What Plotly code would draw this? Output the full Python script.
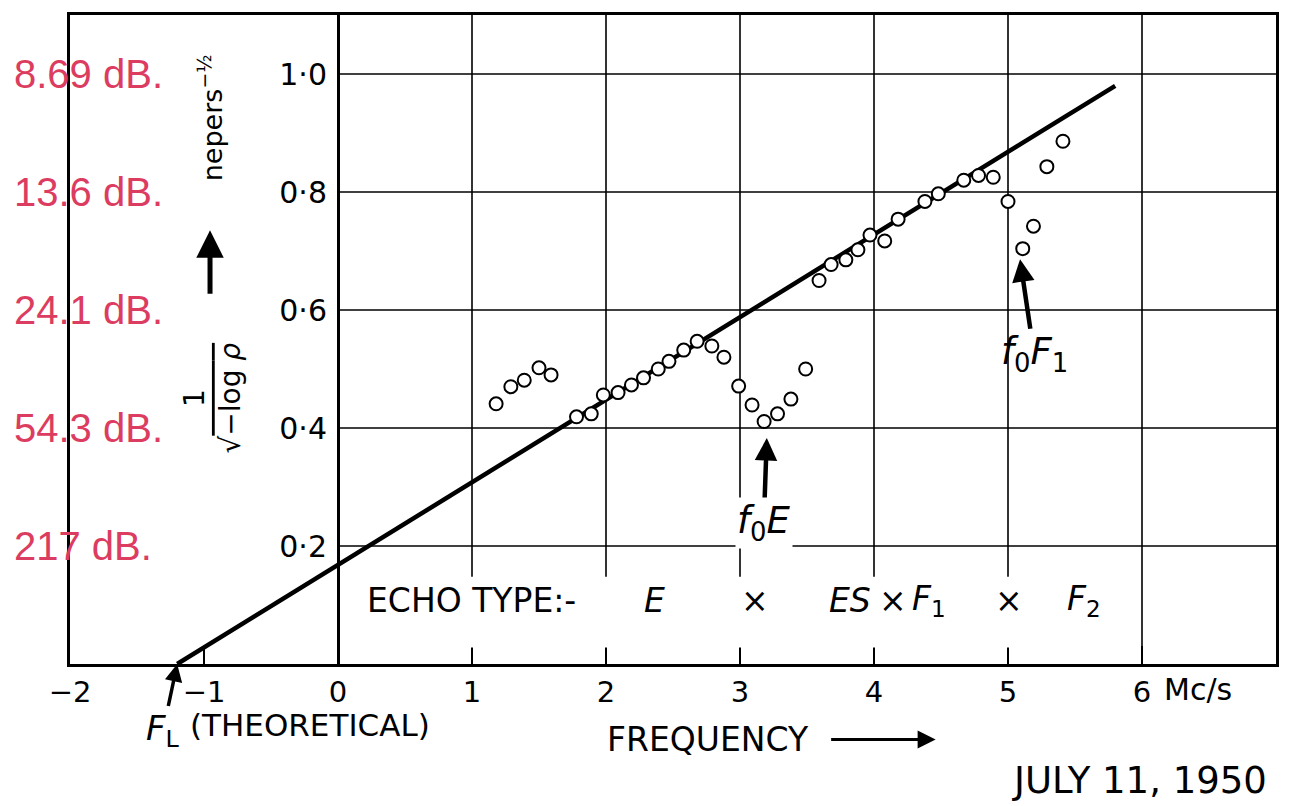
import plotly.graph_objects as go

# ---------------- data ----------------
freq = [1.18, 1.29, 1.39, 1.50, 1.59,
        1.78, 1.89, 1.98, 2.09, 2.19, 2.28, 2.39, 2.47, 2.58, 2.68, 2.79, 2.88,
        2.99, 3.09, 3.18, 3.28, 3.38, 3.49,
        3.59, 3.68, 3.79, 3.88, 3.97, 4.08, 4.18, 4.38, 4.48, 4.67, 4.78, 4.89,
        5.00, 5.11, 5.19, 5.29, 5.41]
inv_sqrt_log_rho = [0.441, 0.470, 0.481, 0.502, 0.490,
                    0.419, 0.424, 0.456, 0.460, 0.473, 0.485, 0.500, 0.513, 0.532, 0.547, 0.539, 0.520,
                    0.471, 0.439, 0.411, 0.424, 0.449, 0.500,
                    0.650, 0.677, 0.685, 0.702, 0.727, 0.717, 0.754, 0.784, 0.797, 0.820, 0.828, 0.825,
                    0.784, 0.704, 0.742, 0.843, 0.886]
fit_x = [-1.2, 5.8]
fit_y = [0.0, 0.98]

x_tickvals = [-2, -1, 0, 1, 2, 3, 4, 5, 6]
x_ticktext = ["−2", "−1", "0", "1", "2", "3", "4", "5", "6"]
y_tickvals = [0.2, 0.4, 0.6, 0.8, 1.0]
y_ticktext = ["0·2", "0·4", "0·6", "0·8", "1·0"]
db_labels = ["217 dB.", "54.3 dB.", "24.1 dB.", "13.6 dB.", "8.69 dB."]
grid_x = [1, 2, 3, 4, 5, 6]
echo_types = [("<i>E</i>", 2.36), ("×", 3.11), ("<i>ES</i>", 3.82), ("×", 4.14),
              ("<i>F</i><sub>1</sub>", 4.41), ("×", 5.01), ("<i>F</i><sub>2</sub>", 5.57)]

X_RANGE = [-2, 7]
Y_RANGE = [0, 1.1]

FONT = "'DejaVu Sans', Verdana, sans-serif"
RED = "#dc3c5f"


def xp(x):
    return (x - X_RANGE[0]) / (X_RANGE[1] - X_RANGE[0])


def yp(y):
    return (y - Y_RANGE[0]) / (Y_RANGE[1] - Y_RANGE[0])


fig = go.Figure()
fig.add_trace(go.Scatter(x=fit_x, y=fit_y, mode="lines",
                         line=dict(color="black", width=4.5),
                         xaxis="x", yaxis="y", hoverinfo="skip", showlegend=False))
fig.add_trace(go.Scatter(x=freq, y=inv_sqrt_log_rho, mode="markers",
                         marker=dict(symbol="circle", size=13, color="white",
                                     line=dict(color="black", width=2)),
                         xaxis="x", yaxis="y2", showlegend=False))

shapes = []
for gx in grid_x:
    shapes.append(dict(type="line", xref="x", yref="y", x0=gx, x1=gx,
                       y0=Y_RANGE[0], y1=Y_RANGE[1],
                       line=dict(color="black", width=1.6), layer="below"))
for gy in y_tickvals:
    shapes.append(dict(type="line", xref="x", yref="y", x0=0, x1=X_RANGE[1],
                       y0=gy, y1=gy, line=dict(color="black", width=1.6), layer="below"))
# white band behind the echo-type legend
shapes.append(dict(type="rect", xref="x", yref="y", x0=0.05, x1=5.95, y0=0.028, y1=0.148,
                   fillcolor="white", line=dict(width=0), layer="above"))

ann = []
# red dB labels
for val, lab in zip(y_tickvals, db_labels):
    ann.append(dict(xref="paper", yref="y", x=xp(-2.43), y=val, text=lab,
                    xanchor="left", yanchor="middle", showarrow=False,
                    font=dict(family="'Liberation Sans', Arial, sans-serif", size=40, color=RED)))
# y title pieces
ann.append(dict(xref="x", yref="y", x=-0.955, y=0.925, text="nepers<sup>−½</sup>",
                textangle=-90, showarrow=False, font=dict(family=FONT, size=27, color="black")))
ann.append(dict(xref="x", yref="y", x=-0.955, y=0.735, ax=-0.955, ay=0.625,
                axref="x", ayref="y", text="", showarrow=True, arrowhead=2,
                arrowsize=1.1, arrowwidth=5, arrowcolor="black"))
ann.append(dict(xref="x", yref="y", x=-0.94, y=0.45,
                text="1<br>√<span style='text-decoration:overline'>−log <i>ρ</i></span>",
                textangle=-90, showarrow=False, font=dict(family=FONT, size=28, color="black")))
# echo type legend
ann.append(dict(xref="x", yref="y", x=0.2, y=0.108, text="ECHO TYPE:-", xanchor="left",
                showarrow=False, font=dict(family=FONT, size=33, color="black")))
for txt, ex in echo_types:
    ann.append(dict(xref="x", yref="y", x=ex, y=0.108, text=txt, showarrow=False,
                    font=dict(family=FONT, size=33, color="black")))
# critical frequencies
ann.append(dict(xref="x", yref="y", x=3.2, y=0.383, ax=-3, ay=85,
                text="<i>f</i><sub>0</sub><i>E</i>", showarrow=True, arrowhead=2,
                arrowsize=1.0, arrowwidth=4.5, arrowcolor="black",
                bgcolor="white", font=dict(family=FONT, size=37, color="black")))
ann.append(dict(xref="x", yref="y", x=5.09, y=0.686, ax=14, ay=95,
                text="<i>f</i><sub>0</sub><i>F</i><sub>1</sub>", showarrow=True, arrowhead=2,
                arrowsize=1.0, arrowwidth=4.5, arrowcolor="black",
                font=dict(family=FONT, size=37, color="black")))
ann.append(dict(xref="x", yref="y", x=fit_x[0], y=0.0, ax=-14, ay=66,
                text="<i>F</i><sub>L</sub>", showarrow=True, arrowhead=2,
                arrowsize=1.0, arrowwidth=3.5, arrowcolor="black",
                font=dict(family=FONT, size=34, color="black")))
ann.append(dict(xref="paper", yref="paper", x=xp(-1.12), y=yp(-0.104), text="(THEORETICAL)",
                xanchor="left", yanchor="middle", showarrow=False,
                font=dict(family=FONT, size=31, color="black")))
# frequency axis title
ann.append(dict(xref="paper", yref="paper", x=xp(1.99), y=yp(-0.128), text="FREQUENCY",
                xanchor="left", yanchor="middle", showarrow=False,
                font=dict(family=FONT, size=33, color="black")))
ann.append(dict(xref="paper", yref="paper", x=xp(4.46), y=yp(-0.128), ax=-106, ay=0,
                text="", showarrow=True, arrowhead=2,
                arrowsize=1.2, arrowwidth=3, arrowcolor="black"))
ann.append(dict(xref="paper", yref="paper", x=xp(6.15), y=yp(-0.044), text="Mc/s",
                xanchor="left", yanchor="middle", showarrow=False,
                font=dict(family=FONT, size=30, color="black")))
ann.append(dict(xref="paper", yref="paper", x=xp(6.95), y=yp(-0.197), text="JULY 11, 1950",
                xanchor="right", yanchor="middle", showarrow=False,
                font=dict(family=FONT, size=37, color="black")))

fig.update_layout(
    width=1291, height=806,
    margin=dict(l=70, r=14, t=12, b=142),
    paper_bgcolor="white", plot_bgcolor="white",
    showlegend=False,
    xaxis=dict(range=X_RANGE, domain=[0, 1], showline=True, linecolor="black", linewidth=3,
               mirror=True, ticks="inside", ticklen=18, tickwidth=2, tickcolor="black",
               tickvals=x_tickvals, ticktext=x_ticktext, showgrid=False, zeroline=False,
               tickfont=dict(family=FONT, size=29, color="black")),
    yaxis=dict(range=Y_RANGE, domain=[0, 1], showline=True, linecolor="black", linewidth=3,
               mirror=True, showticklabels=False, ticks="", showgrid=False, zeroline=False),
    yaxis2=dict(range=Y_RANGE, overlaying="y", anchor="free", position=xp(0), side="left",
                showline=True, linecolor="black", linewidth=3, ticks="",
                tickvals=y_tickvals, ticktext=y_ticktext, showgrid=False, zeroline=False,
                ticklabelstandoff=4, tickfont=dict(family=FONT, size=30, color="black")),
    shapes=shapes, annotations=ann,
)

fig.write_html("out.html", config={"displayModeBar": False},
               post_script="document.body.style.margin='0px';")
